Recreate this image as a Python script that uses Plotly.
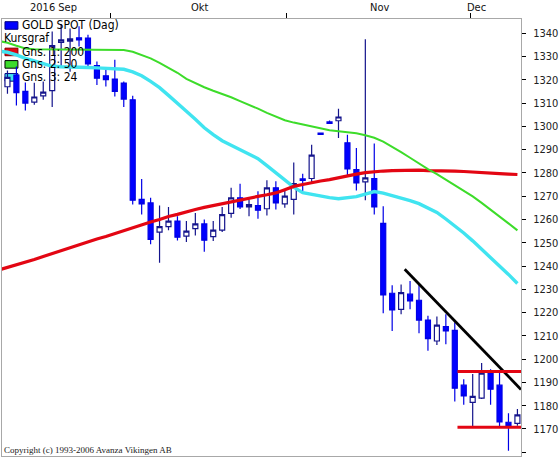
import plotly.graph_objects as go

# ---- Data (one entry per trading day, index 0..57) ----
opens = [1317.0, 1322.0, 1315.0, 1310.4, 1313.1, 1315.3, 1336.1, 1336.6, 1338.0, 1337.9,
         1326.1, 1321.7, 1320.3, 1318.6, 1311.4, 1268.6, 1267.1, 1254.6, 1256.9, 1259.3,
         1252.8, 1256.1, 1258.1, 1252.6, 1255.4, 1262.6, 1269.3, 1265.4, 1266.0, 1264.6,
         1273.6, 1266.7, 1268.6, 1277.4, 1277.6, 1297.1, 1301.9, 1302.4, 1292.9, 1281.4,
         1276.1, 1277.6, 1258.3, 1228.3, 1221.4, 1227.9, 1225.3, 1216.8, 1207.8, 1214.0,
         1212.4, 1188.8, 1181.4, 1183.3, 1194.0, 1188.8, 1172.9, 1172.4]
highs = [1324.0, 1325.7, 1318.8, 1318.7, 1319.3, 1340.7, 1344.0, 1342.0, 1343.0, 1339.3,
         1327.8, 1325.0, 1328.6, 1319.3, 1313.1, 1277.4, 1269.3, 1266.0, 1265.4, 1261.4,
         1259.3, 1262.8, 1260.0, 1259.3, 1265.3, 1273.6, 1275.3, 1268.6, 1272.1, 1276.8,
         1276.4, 1273.1, 1284.5, 1279.6, 1292.1, 1297.1, 1302.5, 1307.6, 1296.4, 1290.7,
         1337.4, 1292.6, 1265.7, 1231.7, 1232.1, 1233.6, 1232.1, 1218.6, 1218.3, 1219.3,
         1215.7, 1191.4, 1193.6, 1198.3, 1195.7, 1194.3, 1176.8, 1178.6]
lows = [1314.0, 1309.0, 1306.8, 1309.3, 1311.4, 1308.3, 1325.7, 1323.4, 1334.3, 1324.6,
        1317.8, 1317.1, 1312.8, 1308.3, 1266.4, 1262.1, 1249.3, 1241.4, 1255.4, 1251.0,
        1250.3, 1253.1, 1246.1, 1250.7, 1254.6, 1260.7, 1264.5, 1261.4, 1260.3, 1261.7,
        1264.3, 1265.0, 1262.1, 1272.1, 1275.4, 1296.5, 1301.3, 1295.0, 1278.6, 1272.4,
        1268.2, 1262.1, 1219.7, 1212.1, 1219.3, 1221.4, 1211.1, 1203.6, 1206.1, 1206.4,
        1181.8, 1180.4, 1170.7, 1182.9, 1180.4, 1171.0, 1160.7, 1171.4]
closes = [1321.0, 1314.5, 1310.0, 1312.6, 1314.7, 1334.7, 1337.1, 1337.6, 1337.1, 1326.8,
          1320.7, 1320.0, 1315.0, 1311.7, 1268.3, 1266.7, 1251.4, 1256.9, 1259.3, 1252.4,
          1255.0, 1258.1, 1251.1, 1255.4, 1262.1, 1269.3, 1265.4, 1266.4, 1264.0, 1273.6,
          1267.1, 1270.0, 1275.4, 1276.8, 1287.6, 1296.5, 1301.3, 1304.0, 1281.7, 1275.7,
          1277.9, 1265.4, 1227.6, 1221.1, 1228.6, 1225.0, 1216.8, 1208.8, 1214.6, 1212.1,
          1187.5, 1184.2, 1184.0, 1194.0, 1187.1, 1173.1, 1171.4, 1176.1]

# moving averages: one value per day, starting one day before the first visible candle
ma200 = [1238.3,
         1239.4, 1240.5, 1241.5, 1242.8, 1244.1, 1245.4, 1246.7, 1248.0, 1249.3, 1250.5,
         1251.6, 1252.7, 1254.0, 1255.3, 1256.6, 1257.8, 1258.9, 1260.0, 1261.3, 1262.2,
         1263.4, 1264.3, 1265.2, 1266.0, 1266.9, 1267.7, 1268.6, 1269.2, 1269.9, 1270.6,
         1271.4, 1272.8, 1274.2, 1275.0, 1275.9, 1276.5, 1277.1, 1278.0, 1278.9, 1279.5,
         1280.1, 1280.6, 1280.8, 1281.0, 1281.1, 1281.2, 1281.2, 1281.0, 1281.0, 1280.8,
         1280.8, 1280.6, 1280.3, 1280.1, 1279.9, 1279.7, 1279.5, 1279.3]
ma50 = [1336.7,
        1335.9, 1334.6, 1333.4, 1333.1, 1333.1, 1333.0, 1333.0, 1333.0, 1333.0, 1333.0,
        1333.0, 1333.0, 1332.9, 1332.8, 1332.0, 1330.7, 1329.2, 1327.3, 1325.1, 1323.0,
        1320.4, 1318.5, 1316.8, 1315.3, 1314.0, 1312.5, 1310.8, 1309.3, 1307.6, 1305.8,
        1304.1, 1302.6, 1301.6, 1300.7, 1299.8, 1299.0, 1298.3, 1297.9, 1297.5, 1297.0,
        1296.2, 1295.1, 1293.4, 1291.3, 1288.9, 1286.5, 1284.0, 1281.6, 1279.5, 1277.1,
        1274.6, 1272.4, 1269.9, 1267.1, 1264.3, 1261.3, 1258.3, 1255.3]
ma24 = [1332.3,
        1331.8, 1330.7, 1329.2, 1328.1, 1326.8, 1325.8, 1325.6, 1325.6, 1325.6, 1325.3,
        1325.1, 1324.9, 1324.9, 1324.5, 1323.4, 1321.7, 1319.3, 1316.6, 1313.3, 1310.1,
        1306.5, 1303.0, 1299.4, 1296.4, 1293.8, 1291.9, 1290.0, 1288.0, 1286.1, 1283.1,
        1280.1, 1276.7, 1273.9, 1271.5, 1270.7, 1270.0, 1269.4, 1268.9, 1269.2, 1269.8,
        1270.9, 1272.0, 1271.3, 1270.3, 1269.2, 1268.1, 1266.8, 1265.1, 1263.0, 1260.2,
        1257.4, 1254.2, 1250.8, 1247.3, 1243.7, 1240.3, 1236.4, 1232.5]

month_tick_pos = [11.5, 31.2, 51.8]
month_labels = ["2016 Sep", "Okt", "Nov", "Dec"]
month_label_pos = [5.1, 21.5, 41.6, 52.4]

trend_x = [44.4, 57.4]
trend_y = [1238.6, 1187.0]
band_x = [50.3, 57.4]
band_top = 1194.7
band_bottom = 1170.7

legend_labels = ["GOLD SPOT (Dag)", "Kursgraf", "Gns. 1: 200", "Gns. 2: 50", "Gns. 3: 24"]
copyright_text = "Copyright (c) 1993-2006 Avanza Vikingen AB"

x_range = [-0.61, 57.4]
y_range = [1158.4, 1346.1]
y_ticks = list(range(1160, 1341, 10))

# ---- styling ----
W, H = 559, 458
ML, MR, MT, MB = 1, 36, 19, 1
PW, PH = W - ML - MR, H - MT - MB
FONT = "DejaVu Sans Condensed, Liberation Sans Narrow, Arial Narrow, sans-serif"
FSIZE = 11
RED, GREEN, CYAN = "#e30613", "#3ddc2a", "#40e4f0"


def px_x(px):
    return (px - ML) / PW


def px_y(py):
    return (H - MB - py) / PH


idx = list(range(len(opens)))
ma_idx = list(range(-1, len(opens)))

fig = go.Figure()
fig.add_trace(go.Candlestick(
    x=idx, open=opens, high=highs, low=lows, close=closes,
    increasing=dict(line=dict(color="#14148c", width=1.2), fillcolor="#ffffff"),
    decreasing=dict(line=dict(color="#0000e6", width=1.2), fillcolor="#0000ff"),
    whiskerwidth=0, hoverinfo="skip", showlegend=False,
))
fig.add_trace(go.Scatter(x=ma_idx, y=ma24, mode="lines", line=dict(color=CYAN, width=3.4),
                         hoverinfo="skip", showlegend=False))
fig.add_trace(go.Scatter(x=ma_idx, y=ma200, mode="lines", line=dict(color=RED, width=3.2),
                         hoverinfo="skip", showlegend=False))
fig.add_trace(go.Scatter(x=ma_idx, y=ma50, mode="lines", line=dict(color=GREEN, width=2),
                         hoverinfo="skip", showlegend=False))
fig.add_trace(go.Scatter(x=trend_x, y=trend_y, mode="lines", line=dict(color="#000000", width=2.8),
                         hoverinfo="skip", showlegend=False))
for lvl in (band_top, band_bottom):
    fig.add_trace(go.Scatter(x=band_x, y=[lvl, lvl], mode="lines",
                             line=dict(color=RED, width=3), hoverinfo="skip", showlegend=False))

# legend (drawn as in the original: icons + text, top-left inside the plot)
legend_icon = [("#0000ff", "#000080"), None, (RED, "#800000"), (GREEN, "#000000"), (CYAN, "#000080")]
legend_y = [25.5, 38.5, 52.0, 64.5, 77.5]
legend_x = [19, 1, 19, 19, 19]
shapes = []
annotations = []
for lab, icon, ly, lx in zip(legend_labels, legend_icon, legend_y, legend_x):
    annotations.append(dict(text=lab, xref="paper", yref="paper", x=px_x(lx), y=px_y(ly),
                            xanchor="left", yanchor="middle", showarrow=False,
                            font=dict(family=FONT, size=FSIZE + 1, color="#000000")))
    if icon:
        shapes.append(dict(type="rect", xref="paper", yref="paper",
                           x0=px_x(4), x1=px_x(17), y0=px_y(ly - 3.8), y1=px_y(ly + 3.8),
                           fillcolor=icon[0], line=dict(color=icon[1], width=1), layer="below"))

for lab, pos in zip(month_labels, month_label_pos):
    annotations.append(dict(text=lab, xref="x", yref="paper", x=pos, y=1, yshift=12,
                            xanchor="center", yanchor="middle", showarrow=False,
                            font=dict(family=FONT, size=FSIZE, color="#111111")))

annotations.append(dict(text=copyright_text, xref="paper", yref="paper", x=px_x(1), y=px_y(450.5),
                        xanchor="left", yanchor="middle", showarrow=False,
                        font=dict(family="Liberation Serif, Times New Roman, serif", size=9,
                                  color="#222222")))

fig.update_layout(
    width=W, height=H,
    margin=dict(l=ML, r=MR, t=MT, b=MB, pad=0),
    paper_bgcolor="#ffffff", plot_bgcolor="#ffffff",
    boxgap=0.2,
    shapes=shapes, annotations=annotations,
    showlegend=False,
    xaxis=dict(range=x_range, side="top", showgrid=False, zeroline=False,
               showline=True, linecolor="#a8a8a8", linewidth=1, mirror=True,
               tickmode="array", tickvals=month_tick_pos, showticklabels=False,
               ticks="outside", ticklen=5, tickcolor="#000000", tickwidth=1,
               rangeslider=dict(visible=False), fixedrange=True),
    yaxis=dict(range=y_range, side="right", showgrid=False, zeroline=False,
               showline=True, linecolor="#a8a8a8", linewidth=1, mirror=True,
               tickmode="array", tickvals=y_ticks,
               ticks="outside", ticklen=4, tickcolor="#000000", tickwidth=1,
               ticklabelstandoff=5,
               tickfont=dict(family=FONT, size=FSIZE, color="#222222"), fixedrange=True),
)

fig.write_html("out.html", config=dict(displayModeBar=False),
               post_script="document.body.style.margin='0';")
